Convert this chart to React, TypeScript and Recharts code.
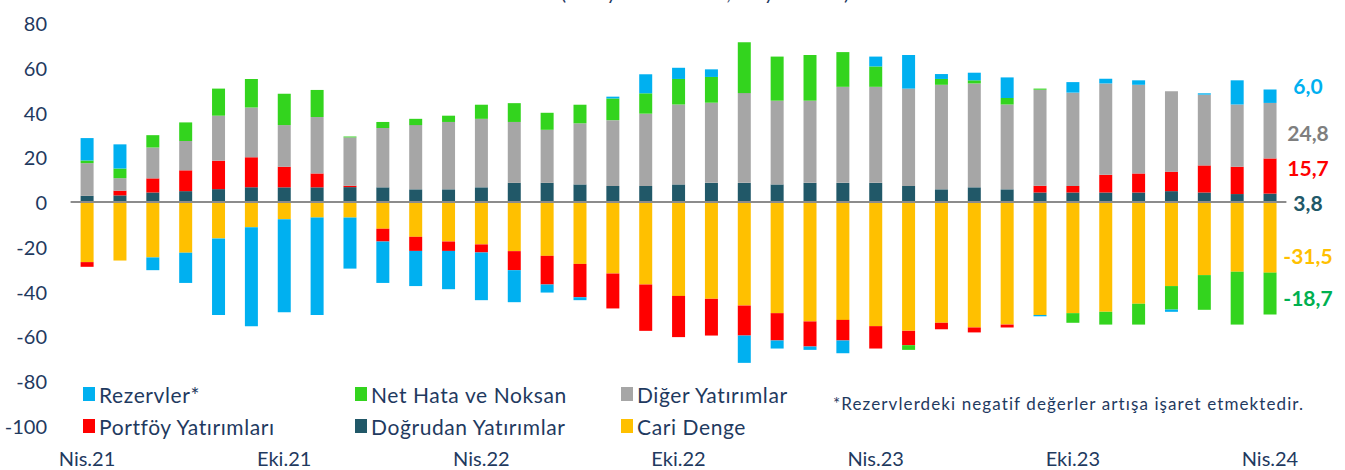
import React from 'react';
import { BarChart, Bar, XAxis, YAxis, ReferenceLine } from 'recharts';

// Nis.21 – Nis.24, monthly
const months = [
  'Nis.21', 'May.21', 'Haz.21', 'Tem.21', 'Ağu.21', 'Eyl.21', 'Eki.21', 'Kas.21', 'Ara.21',
  'Oca.22', 'Şub.22', 'Mar.22', 'Nis.22', 'May.22', 'Haz.22', 'Tem.22', 'Ağu.22', 'Eyl.22',
  'Eki.22', 'Kas.22', 'Ara.22', 'Oca.23', 'Şub.23', 'Mar.23', 'Nis.23', 'May.23', 'Haz.23',
  'Tem.23', 'Ağu.23', 'Eyl.23', 'Eki.23', 'Kas.23', 'Ara.23', 'Oca.24', 'Şub.24', 'Mar.24',
  'Nis.24',
];

const cariDenge = [
  -26.8, -26.1, -24.7, -22.6, -16.2, -11.2, -7.6, -6.9, -6.9, -11.9, -15.5, -17.6, -18.9,
  -21.9, -24.0, -27.6, -31.9, -36.8, -41.9, -43.2, -46.2, -49.6, -53.3, -52.6, -55.4, -57.5,
  -53.9, -56.0, -54.7, -50.4, -49.6, -49.0, -45.4, -37.5, -32.6, -31.1, -31.5,
];

const dogrudan = [
  2.8, 3.0, 4.3, 4.9, 5.8, 6.6, 6.6, 6.6, 6.7, 6.6, 5.7, 5.7, 6.6, 8.6, 8.6, 7.9, 7.2, 7.2,
  7.9, 8.6, 8.6, 7.9, 8.6, 8.6, 8.6, 7.2, 5.7, 6.6, 5.7, 4.3, 4.3, 4.3, 4.3, 4.9, 4.3, 3.6, 3.8,
];

const portfoy = [
  -2.1, 2.1, 6.3, 9.3, 12.7, 13.4, 9.2, 6.2, 0.6, -5.7, -6.3, -4.2, -3.6, -8.5, -12.8, -14.9,
  -15.6, -20.7, -18.4, -16.4, -13.4, -12.2, -11.2, -9.2, -10.0, -6.4, -2.9, -2.2, -1.3, 3.0,
  2.9, 7.9, 8.5, 8.7, 12.1, 12.2, 15.7,
];

const diger = [
  14.6, 5.6, 13.8, 13.1, 20.1, 22.3, 18.6, 25.2, 21.6, 26.5, 28.7, 30.1, 30.6, 27.2, 23.7,
  27.3, 29.4, 32.3, 35.7, 35.8, 40.1, 37.4, 36.7, 42.9, 42.9, 43.5, 46.7, 46.4, 37.9, 42.9,
  41.7, 40.8, 39.6, 35.9, 31.6, 27.8, 24.8,
];

const netHata = [
  1.2, 4.3, 5.5, 8.3, 12.1, 12.7, 14.0, 12.1, 0.4, 2.7, 2.8, 2.8, 6.3, 8.4, 7.6, 8.3, 9.7,
  9.1, 11.4, 11.5, 22.7, 19.7, 20.4, 15.5, 9.1, -2.1, 2.6, 1.4, 2.9, 0.5, -4.3, -5.7, -9.3,
  -10.5, -15.5, -23.6, -18.7,
];

const rezerv = [
  10.0, 10.8, -5.7, -13.5, -34.2, -44.2, -41.6, -43.5, -22.8, -18.5, -15.7, -17.1, -21.3,
  -14.3, -3.6, -1.3, 0.8, 8.5, 5.0, 3.4, -12.2, -3.6, -1.5, -5.7, 4.4, 15.0, 2.2, 3.4, 9.2,
  -0.6, 4.7, 2.1, 2.0, -1.0, 0.6, 10.8, 6.0,
];

const yTicks = [-100, -80, -60, -40, -20, 0, 20, 40, 60, 80];

const C = {
  rezerv: '#00B0F0',
  netHata: '#33D41E',
  diger: '#A6A6A6',
  portfoy: '#FF0000',
  dogrudan: '#215868',
  cari: '#FFC000',
  text: '#1F3A5F',
};

const data = months.map((m, i) => ({
  month: m,
  cari: cariDenge[i],
  dogrudan: dogrudan[i],
  portfoy: portfoy[i],
  diger: diger[i],
  netHata: netHata[i],
  rezerv: rezerv[i],
}));

const last = data[data.length - 1];
const fmt = (v: number) => v.toFixed(1).replace('.', ',');

// end-of-series labels (text from last month, colours, hand placed y)
const endLabels = [
  { key: 'rezerv', color: '#00B0F0', y: 85 },
  { key: 'diger', color: '#7F7F7F', y: 132 },
  { key: 'portfoy', color: '#FF0000', y: 167 },
  { key: 'dogrudan', color: '#215868', y: 202 },
  { key: 'cari', color: '#FFC000', y: 255 },
  { key: 'netHata', color: '#00B050', y: 297 },
];

const legendItems = [
  { label: 'Rezervler*', color: C.rezerv, x: 83, y: 394 },
  { label: 'Net Hata ve Noksan', color: C.netHata, x: 355, y: 394 },
  { label: 'Diğer Yatırımlar', color: C.diger, x: 621, y: 394 },
  { label: 'Portföy Yatırımları', color: C.portfoy, x: 83, y: 426 },
  { label: 'Doğrudan Yatırımlar', color: C.dogrudan, x: 355, y: 426 },
  { label: 'Cari Denge', color: C.cari, x: 621, y: 426 },
];

const FONT = 'Lato, "Open Sans", sans-serif';

const YTick = ({ y, payload }: any) => (
  <text x={47} y={y} textAnchor="end" dominantBaseline="central" fontSize={20} fill={C.text} fontFamily={FONT}>
    {payload.value}
  </text>
);

const XTick = ({ x, payload }: any) => (
  <text x={x} y={458} textAnchor="middle" dominantBaseline="central" fontSize={20} fill={C.text} fontFamily={FONT}>
    {payload.value}
  </text>
);

export default function App() {
  return (
    <div style={{ position: 'absolute', left: 0, top: 0, width: 1345, height: 470, overflow: 'hidden', background: '#fff', fontFamily: FONT }}>
      <BarChart
        width={1345}
        height={470}
        data={data}
        stackOffset="sign"
        margin={{ top: 23, right: 58.6, bottom: 12, left: 8 }}
      >
        <XAxis dataKey="month" interval={5} axisLine={false} tickLine={false} height={32} tick={<XTick />} />
        <YAxis
          width={62.6}
          domain={[-100, 80]}
          ticks={yTicks}
          axisLine={false}
          tickLine={false}
          tick={<YTick />}
          allowDataOverflow
        />
        <Bar dataKey="cari" stackId="a" fill={C.cari} barSize={13} isAnimationActive={false} />
        <Bar dataKey="dogrudan" stackId="a" fill={C.dogrudan} barSize={13} isAnimationActive={false} />
        <Bar dataKey="portfoy" stackId="a" fill={C.portfoy} barSize={13} isAnimationActive={false} />
        <Bar dataKey="diger" stackId="a" fill={C.diger} barSize={13} isAnimationActive={false} />
        <Bar dataKey="netHata" stackId="a" fill={C.netHata} barSize={13} isAnimationActive={false} />
        <Bar dataKey="rezerv" stackId="a" fill={C.rezerv} barSize={13} isAnimationActive={false} />
        <ReferenceLine y={0} stroke="#8C8C8C" strokeWidth={2} />
      </BarChart>

      <svg width={1345} height={470} style={{ position: 'absolute', left: 0, top: 0, pointerEvents: 'none' }}>
        {/* title sits mostly above the frame, as in the source image */}
        <text x={705} y={0} textAnchor="middle" fontSize={20} fill={C.text} fontFamily={FONT}>
          (12 Aylık Kümülatif, Milyar Dolar)
        </text>
        {endLabels.map((l) => (
          <text
            key={l.key}
            x={1308}
            y={l.y}
            textAnchor="middle"
            dominantBaseline="central"
            fontSize={21}
            fontWeight="bold"
            fill={l.color}
            fontFamily={FONT}
          >
            {fmt((last as any)[l.key])}
          </text>
        ))}
        {legendItems.map((it) => (
          <g key={it.label}>
            <rect x={it.x} y={it.y - 7} width={12} height={14} fill={it.color} />
            <text
              x={it.x + 16}
              y={it.y}
              dominantBaseline="central"
              fontSize={21}
              letterSpacing={0.6}
              fill={C.text}
              fontFamily={FONT}
            >
              {it.label}
            </text>
          </g>
        ))}
        <text
          x={833}
          y={403}
          dominantBaseline="central"
          fontSize={17}
          letterSpacing={1.1}
          fill={C.text}
          fontFamily={FONT}
        >
          *Rezervlerdeki negatif değerler artışa işaret etmektedir.
        </text>
      </svg>
    </div>
  );
}
